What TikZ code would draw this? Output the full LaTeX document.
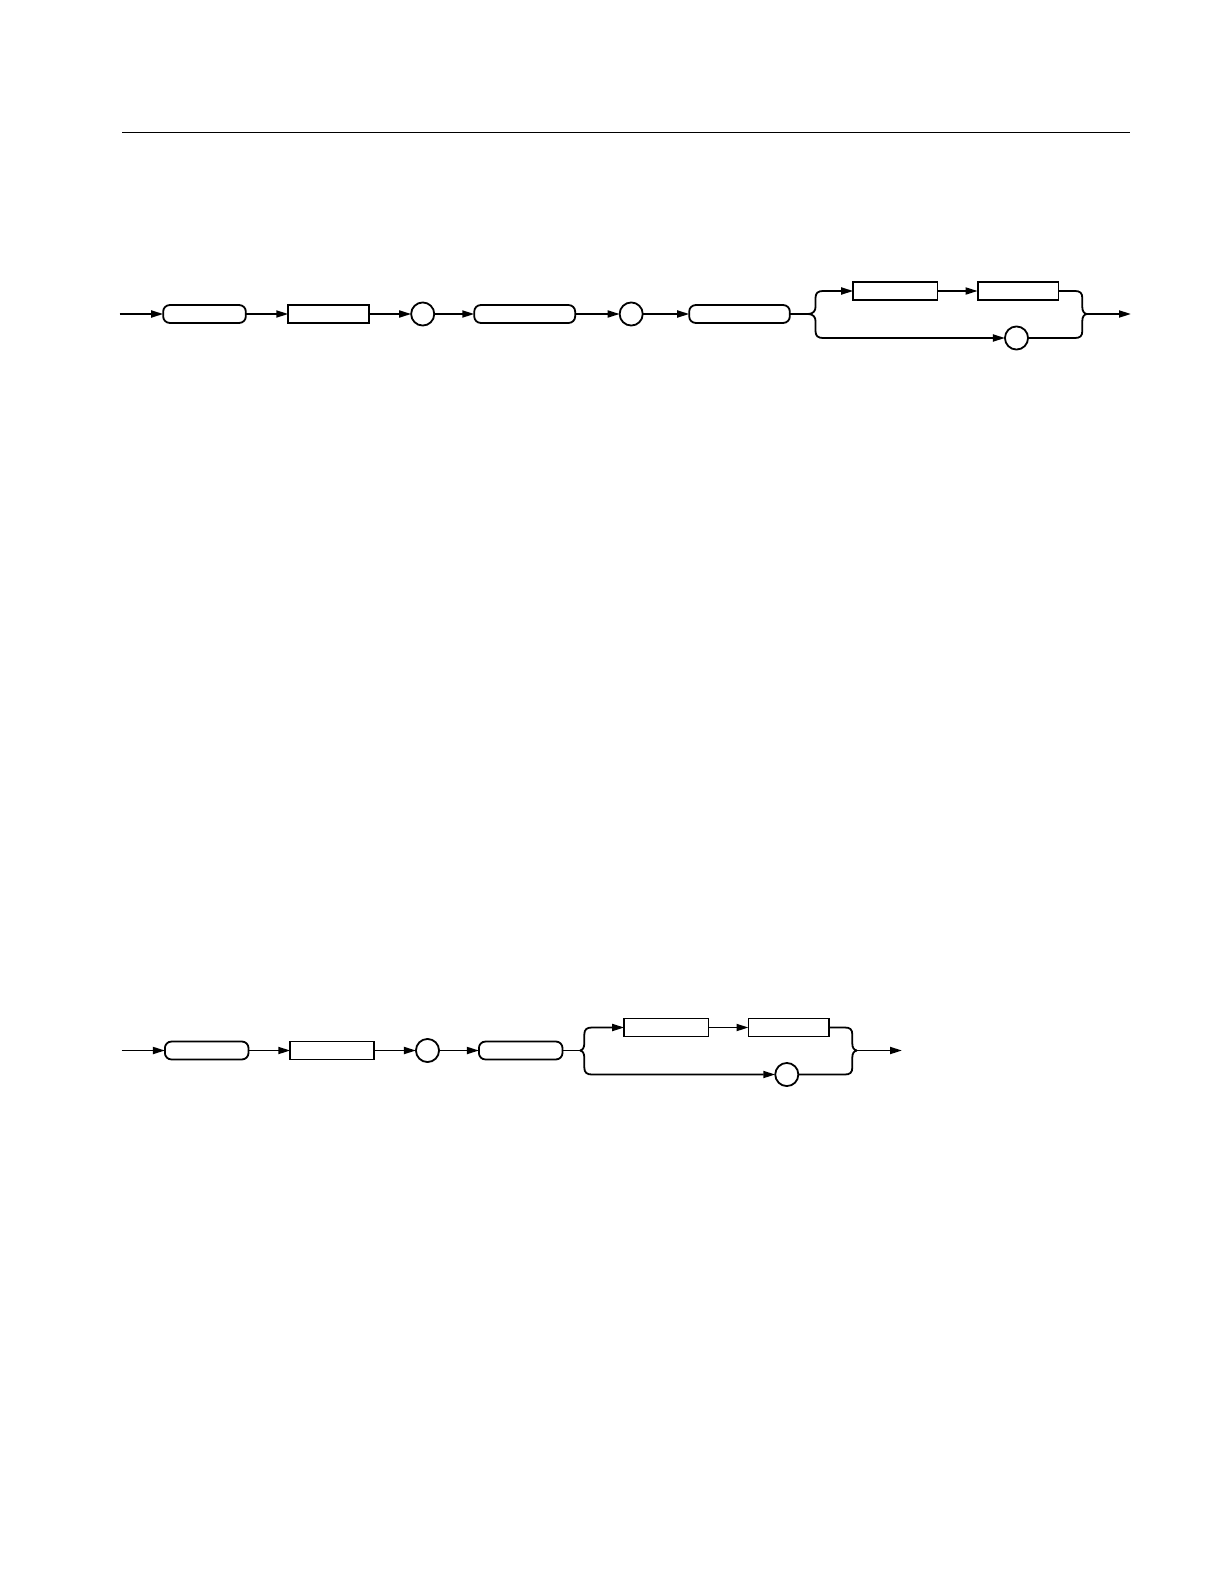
\documentclass[tikz,border=0pt]{standalone}
\usetikzlibrary{arrows.meta}
\begin{document}
\begin{tikzpicture}[x=1pt,y=-1pt,
  line width=1.8pt,
  every node/.style={draw,inner sep=0pt,outer sep=0pt,minimum height=17.9pt},
  pill/.style={rounded corners=6.5pt},
  rbox/.style={rectangle},
  ring/.style={circle,minimum size=23.1pt},
  flow/.style={-{Triangle[length=12pt,width=7pt]}}]
\useasboundingbox (0,0) rectangle (1224,1584);
\draw[line width=1pt] (122,132.3) -- (1129.5,132.3);

% ---------- diagram 1 ----------
\coordinate (s1) at (119.5,314);
\node[pill,minimum width=82.6pt] (a1) at (204.5,314) {};
\node[rbox,minimum width=80.9pt] (a2) at (328.7,314) {};
\node[ring] (a3) at (422.7,314) {};
\node[pill,minimum width=100.9pt] (a4) at (524.7,314) {};
\node[ring] (a5) at (631.2,314) {};
\node[pill,minimum width=100.6pt] (a6) at (739.5,314) {};
\node[rbox,minimum width=84.2pt] (a7) at (895.3,291) {};
\node[rbox,minimum width=80.8pt] (a8) at (1018,291) {};
\node[ring] (a9) at (1016.5,338) {};
\coordinate (L1) at (808,314);
\coordinate (R1) at (1087,314);
\coordinate (e1) at (1131,314);

\draw[flow] (s1) -- (a1);
\draw[flow] (a1) -- (a2);
\draw[flow] (a2) -- (a3);
\draw[flow] (a3) -- (a4);
\draw[flow] (a4) -- (a5);
\draw[flow] (a5) -- (a6);
\draw (a6.east) -- (L1);
\draw[flow] (L1) .. controls (813,314) and (815.5,311) .. (815.5,307) -- (815.5,298)
  .. controls (815.5,293) and (818,291) .. (823,291) -- (a7.west);
\draw[flow] (L1) .. controls (813,314) and (815.5,317) .. (815.5,321) -- (815.5,331)
  .. controls (815.5,336) and (818,338) .. (823,338) -- (a9.west);
\draw[flow] (a7) -- (a8);
\draw (a8.east) -- (1075,291) .. controls (1080,291) and (1082.3,293) .. (1082.3,298)
  -- (1082.3,307) .. controls (1082.3,311) and (1084,314) .. (R1);
\draw (a9.east) -- (1075,338) .. controls (1080,338) and (1082.3,336) .. (1082.3,331)
  -- (1082.3,321) .. controls (1082.3,317) and (1084,314) .. (R1);
\draw[flow] (R1) -- (e1);

% ---------- diagram 2 ----------
\coordinate (s2) at (121.7,1050.5);
\node[pill,minimum width=83.6pt] (b1) at (206.7,1050.5) {};
\node[rbox,minimum width=83.9pt] (b2) at (332.2,1050.5) {};
\node[ring] (b3) at (427.5,1050.5) {};
\node[pill,minimum width=83.6pt] (b4) at (520.7,1050.5) {};
\node[rbox,minimum width=84.2pt] (b5) at (666.3,1027.5) {};
\node[rbox,minimum width=80.6pt] (b6) at (788.8,1027.5) {};
\node[ring] (b7) at (786.8,1074.5) {};
\coordinate (L2) at (580,1050.5);
\coordinate (R2) at (857,1050.5);
\coordinate (e2) at (902,1050.5);

\draw[flow] (s2) -- (b1);
\draw[flow] (b1) -- (b2);
\draw[flow] (b2) -- (b3);
\draw[flow] (b3) -- (b4);
\draw (b4.east) -- (L2);
\draw[flow] (L2) .. controls (582.5,1050.5) and (584.3,1047.5) .. (584.3,1043.5) -- (584.3,1034.5)
  .. controls (584.3,1029.5) and (586.8,1027.5) .. (591.8,1027.5) -- (b5.west);
\draw[flow] (L2) .. controls (582.5,1050.5) and (584.3,1053.5) .. (584.3,1057.5) -- (584.3,1067.5)
  .. controls (584.3,1072.5) and (586.8,1074.5) .. (591.8,1074.5) -- (b7.west);
\draw[flow] (b5) -- (b6);
\draw (b6.east) -- (845,1027.5) .. controls (850,1027.5) and (852.3,1029.5) .. (852.3,1034.5)
  -- (852.3,1043.5) .. controls (852.3,1047.5) and (854,1050.5) .. (R2);
\draw (b7.east) -- (845,1074.5) .. controls (850,1074.5) and (852.3,1072.5) .. (852.3,1067.5)
  -- (852.3,1057.5) .. controls (852.3,1053.5) and (854,1050.5) .. (R2);
\draw[flow] (R2) -- (e2);
\end{tikzpicture}
\end{document}
